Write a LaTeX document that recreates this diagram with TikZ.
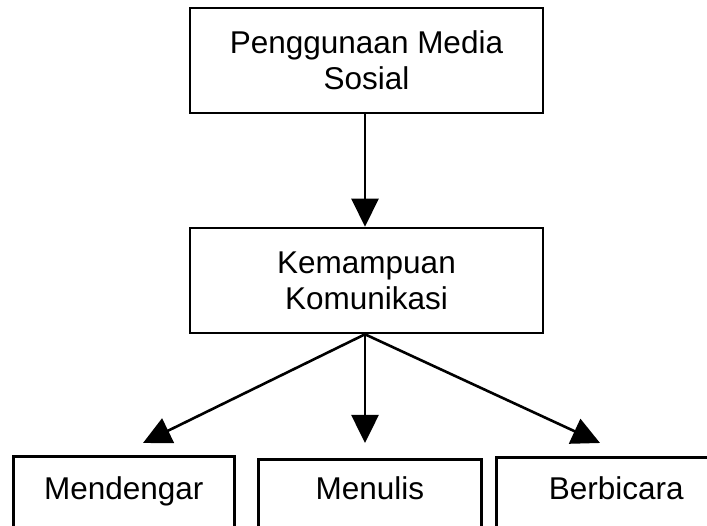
\documentclass[tikz,border=0pt]{standalone}
\usepackage{fontspec}
\setmainfont{Liberation Sans}
\usetikzlibrary{arrows.meta}
\begin{document}
\begin{tikzpicture}[x=1pt,y=1pt,
  box/.style={draw=black, line width=2.6pt, fill=white, inner sep=0pt, align=center,
    font=\fontsize{31.5}{36}\selectfont},
  conn/.style={line width=2.6pt, -{Triangle[length=28pt,width=27pt]}}]
\useasboundingbox (0,0) rectangle (707,526);
\node[box, minimum width=353, minimum height=105] (ps) at (366.5,465.5) {Penggunaan Media\\Sosial};
\node[box, minimum width=353, minimum height=105] (km) at (366.5,245.5) {Kemampuan\\Komunikasi};
\node[box, anchor=north west, minimum width=221, minimum height=84, text height=22pt, text depth=20pt] (md) at (12,71) {Mendengar};
\node[box, anchor=north west, minimum width=223, minimum height=84, text height=22pt, text depth=26pt] (mn) at (257,68) {Menulis};
\node[box, anchor=north west, minimum width=240, minimum height=84, text height=22pt, text depth=22pt] (bb) at (495,70) {Berbicara};
\coordinate (tl) at (143,83);
\coordinate (tm) at (365,83);
\coordinate (tr) at (600,83);
\draw[conn] (ps.south -| tm) -- (km.north -| tm);
\draw[conn] (km.south -| tm) -- (tl);
\draw[conn] (km.south -| tm) -- (tm);
\draw[conn] (km.south -| tm) -- (tr);
\end{tikzpicture}
\end{document}
